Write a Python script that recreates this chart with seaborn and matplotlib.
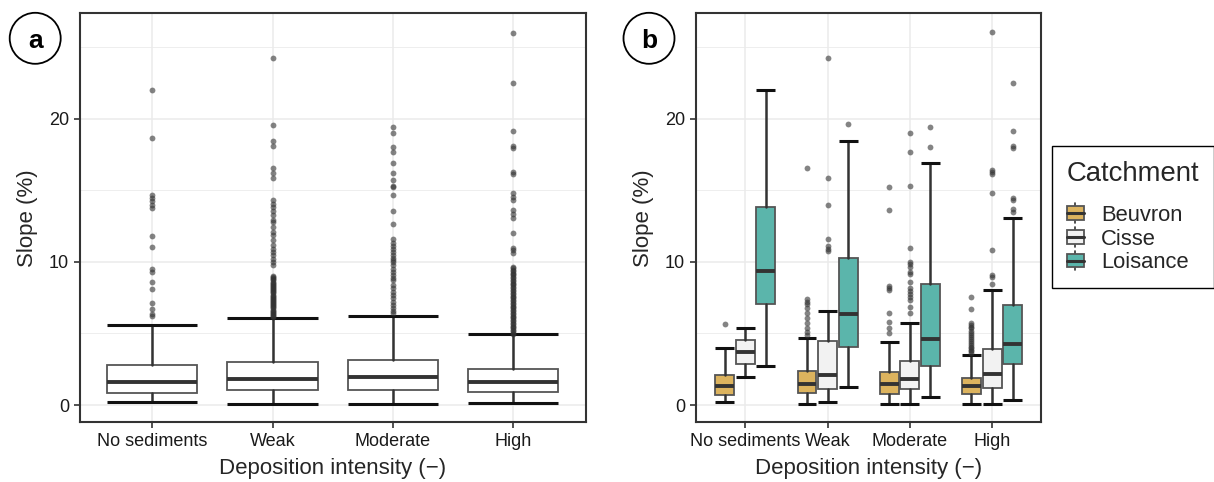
import numpy as np
import matplotlib
matplotlib.use("Agg")
import matplotlib.pyplot as plt
import seaborn as sns
from matplotlib.patches import Rectangle, Circle, Patch
from matplotlib.lines import Line2D
from matplotlib.legend_handler import HandlerBase

# ---------------- data ----------------
categories = ["No sediments", "Weak", "Moderate", "High"]
catchments = ["Beuvron", "Cisse", "Loisance"]
catchment_colors = ["#DCB35E", "#F2F2F2", "#5BB5AB"]

# panel a: all catchments pooled
a_whislo = [0.23, 0.09, 0.09, 0.12]
a_q1 = [0.84, 1.02, 1.07, 0.90]
a_med = [1.60, 1.81, 1.95, 1.63]
a_q3 = [2.83, 3.04, 3.15, 2.52]
a_whishi = [5.61, 6.10, 6.24, 4.94]
a_out_nosed = [22.03, 18.66, 14.69, 14.46, 14.23, 14.0, 13.78, 11.77, 11.07,
               9.47, 9.29, 8.61, 8.10, 7.12, 6.73, 6.36, 6.22]
a_out_weak = [24.2, 19.57, 18.47, 18.1, 16.57, 16.22, 15.88, 14.3, 14.07, 13.84,
              13.56, 13.26, 12.9, 12.76, 12.4, 12.1, 11.9, 11.5, 11.2, 10.9, 10.7,
              10.5, 10.2, 9.96, 9.78, 9.0, 8.92, 8.85, 8.78, 8.7, 8.62, 8.55, 8.47,
              8.4, 8.32, 8.25, 8.17, 8.1, 8.02, 7.95, 7.87, 7.8, 7.72, 7.65, 7.57,
              7.5, 7.42, 7.35, 7.27, 7.2, 7.12, 7.05, 6.97, 6.9, 6.82, 6.75, 6.67,
              6.6, 6.52, 6.45, 6.37, 6.3, 6.22, 6.17]
a_out_moderate = [19.4, 19.0, 18.0, 17.67, 16.9, 16.2, 15.7, 15.3, 15.2, 14.7,
                  13.58, 12.65, 11.6, 11.3, 11.1, 10.9, 10.7, 10.5, 10.3, 10.1,
                  10.0, 9.75, 9.5, 9.3, 9.05, 8.85, 8.7, 8.4, 8.2, 7.9, 7.7, 7.5,
                  7.2, 7.0, 6.8, 6.6, 6.45]
a_out_high = [26.0, 22.5, 19.1, 18.06, 17.95, 16.27, 16.1, 14.8, 14.53, 14.3,
              13.6, 13.37, 13.07, 11.98, 10.98, 10.8, 10.6, 9.65, 9.55, 9.45,
              9.35, 9.25, 9.15, 9.05, 8.95, 8.85, 8.75, 8.65, 8.55, 8.45, 8.35,
              8.25, 8.15, 8.05, 7.95, 7.85, 7.75, 7.65, 7.55, 7.45, 7.35, 7.25,
              7.15, 7.05, 6.95, 6.85, 6.75, 6.65, 6.55, 6.45, 6.35, 6.25, 6.15,
              6.05, 5.95, 5.85, 5.75, 5.65, 5.55, 5.45, 5.35, 5.25, 5.15, 5.05,
              4.97]
a_outliers = [a_out_nosed, a_out_weak, a_out_moderate, a_out_high]

# panel b: per catchment
beuvron_whislo = [0.25, 0.11, 0.11, 0.11]
beuvron_q1 = [0.72, 0.84, 0.77, 0.79]
beuvron_med = [1.34, 1.48, 1.48, 1.30]
beuvron_q3 = [2.10, 2.39, 2.30, 1.88]
beuvron_whishi = [4.01, 4.71, 4.43, 3.50]
beuvron_out = [
    [5.64],
    [16.57, 7.40, 7.22, 7.03, 6.75, 6.4, 6.06, 5.71, 5.36, 5.13, 4.9],
    [15.2, 13.6, 8.31, 8.15, 8.03, 6.45, 5.82, 5.36, 5.01],
    [7.56, 6.73, 5.75, 5.6, 5.45, 5.36, 5.2, 5.06, 4.92, 4.78, 4.64, 4.5, 4.35,
     4.2, 4.08, 3.97, 3.85, 3.75, 3.65],
]
cisse_whislo = [1.98, 0.25, 0.11, 0.11]
cisse_q1 = [2.86, 1.14, 1.14, 1.18]
cisse_med = [3.71, 2.09, 1.83, 2.16]
cisse_q3 = [4.56, 4.46, 3.08, 3.94]
cisse_whishi = [5.39, 6.59, 5.70, 8.04]
cisse_out = [
    [],
    [24.23, 15.88, 13.95, 11.63, 11.12, 10.93, 10.77],
    [19.0, 17.66, 15.3, 10.98, 10.0, 9.84, 9.65, 9.3, 9.14, 8.61, 8.15, 7.95,
     7.75, 7.56, 7.33, 6.87, 6.4],
    [26.05, 16.43, 16.27, 16.1, 14.8, 10.81, 9.07, 8.96, 8.45],
]
loisance_whislo = [2.75, 1.27, 0.58, 0.39]
loisance_q1 = [7.03, 4.06, 2.76, 2.88]
loisance_med = [9.35, 6.36, 4.60, 4.25]
loisance_q3 = [13.83, 10.24, 8.45, 7.01]
loisance_whishi = [22.03, 18.47, 16.87, 13.04]
loisance_out = [
    [],
    [19.59],
    [19.4, 18.0],
    [22.5, 19.1, 18.1, 17.95, 14.46, 14.3, 13.72, 13.48],
]

yticks = [0, 10, 20]
yminor = [5, 15, 25]

# ---------------- style ----------------
sns.set_theme(style="white")
plt.rcParams["font.family"] = ["Liberation Sans", "DejaVu Sans"]

W, H = 1214, 482
fig = plt.figure(figsize=(W / 100, H / 100), dpi=100)

EDGE = "#555555"
DARK = "#333333"
CAP = "#111111"


def make_stats(lo, q1, med, q3, hi, fl):
    return [dict(whislo=lo[i], q1=q1[i], med=med[i], q3=q3[i], whishi=hi[i],
                 fliers=np.array(fl[i])) for i in range(len(med))]


def style_axes(ax):
    ax.set_xlim(0.4, 4.6)
    ax.set_ylim(-1.2, 27.35)
    ax.set_yticks(yticks)
    ax.set_yticks(yminor, minor=True)
    ax.set_xticks(range(1, 5))
    ax.set_xticklabels(categories)
    ax.grid(which="major", color="#EBEBEB", lw=1.1, zorder=0)
    ax.grid(which="minor", axis="y", color="#EBEBEB", lw=0.6, zorder=0)
    ax.set_axisbelow(True)
    for s in ax.spines.values():
        s.set_color(DARK)
        s.set_linewidth(1.5)
    ax.tick_params(which="major", length=4.3, width=1.2, color=DARK,
                   labelsize=13, labelcolor="#1a1a1a", pad=3.5, bottom=True, left=True)
    ax.tick_params(which="minor", length=0)
    ax.set_ylabel("Slope (%)", fontsize=16, labelpad=8)
    ax.set_xlabel("Deposition intensity (\u2212)", fontsize=16, labelpad=6)


def draw(ax, stats, positions, width, color):
    ax.bxp(stats, positions=positions, widths=width, capwidths=width,
           patch_artist=True, manage_ticks=False,
           boxprops=dict(facecolor=color, edgecolor=EDGE, linewidth=1.3),
           medianprops=dict(color=DARK, linewidth=2.8, solid_capstyle="butt"),
           whiskerprops=dict(color=DARK, linewidth=1.8),
           capprops=dict(color=CAP, linewidth=2.2, solid_capstyle="butt"),
           flierprops=dict(marker="o", markerfacecolor="#333333", markeredgecolor="none",
                           markersize=4.2, alpha=0.6),
           zorder=3)


x = np.arange(1, 5)

# panel a
axa = fig.add_axes([80 / W, 1 - 422.3 / H, 505.5 / W, 409 / H])
style_axes(axa)
draw(axa, make_stats(a_whislo, a_q1, a_med, a_q3, a_whishi, a_outliers), x, 0.75, "white")

# panel b
axb = fig.add_axes([696 / W, 1 - 422.3 / H, 345.4 / W, 409 / H])
style_axes(axb)
offsets = [-0.25, 0.0, 0.25]
groups = [
    (beuvron_whislo, beuvron_q1, beuvron_med, beuvron_q3, beuvron_whishi, beuvron_out),
    (cisse_whislo, cisse_q1, cisse_med, cisse_q3, cisse_whishi, cisse_out),
    (loisance_whislo, loisance_q1, loisance_med, loisance_q3, loisance_whishi, loisance_out),
]
for g, off, col in zip(groups, offsets, catchment_colors):
    draw(axb, make_stats(*g), x + off, 0.23, col)


# legend with boxplot keys
class BoxHandler(HandlerBase):
    def create_artists(self, legend, orig_handle, xdescent, ydescent, width, height,
                       fontsize, trans):
        fc = orig_handle.get_facecolor()
        x0, y0 = -xdescent, -ydescent
        wl = Line2D([x0 + width / 2] * 2, [y0 - 0.2 * height, y0 + 1.2 * height],
                    color=DARK, lw=1.2, transform=trans)
        box = Rectangle((x0, y0), width, height, facecolor=fc, edgecolor=EDGE,
                        lw=1.3, transform=trans)
        med = Line2D([x0, x0 + width], [y0 + height / 2] * 2, color=DARK, lw=2.2,
                     transform=trans)
        return [wl, box, med]


handles = [Patch(facecolor=c, label=l) for c, l in zip(catchment_colors, catchments)]
leg = fig.legend(handles=handles, labels=catchments, loc="upper left",
                 bbox_to_anchor=(1051.7 / W, 1 - 146 / H), bbox_transform=fig.transFigure,
                 borderaxespad=0,
                 title="Catchment", title_fontsize=19.8, fontsize=15.8,
                 frameon=True, fancybox=False, edgecolor="black", framealpha=1,
                 borderpad=0.68, handlelength=0.78, handleheight=0.6,
                 handletextpad=0.8, labelspacing=0.12, alignment="left",
                 handler_map={Patch: BoxHandler()})
leg.get_frame().set_linewidth(1.0)
leg._legend_box.sep = 13

# panel tags
for cx, tag in [(35.2, "a"), (649.0, "b")]:
    fig.add_artist(Circle((cx / 100, (H - 38.3) / 100), 0.255,
                          transform=fig.dpi_scale_trans, fill=False, lw=1.3,
                          edgecolor="black"))
    fig.text(cx / W, 1 - 38.3 / H, tag, ha="center", va="center_baseline",
             fontsize=19, fontweight="bold", color="black")

fig.savefig("out.png", dpi=100)
